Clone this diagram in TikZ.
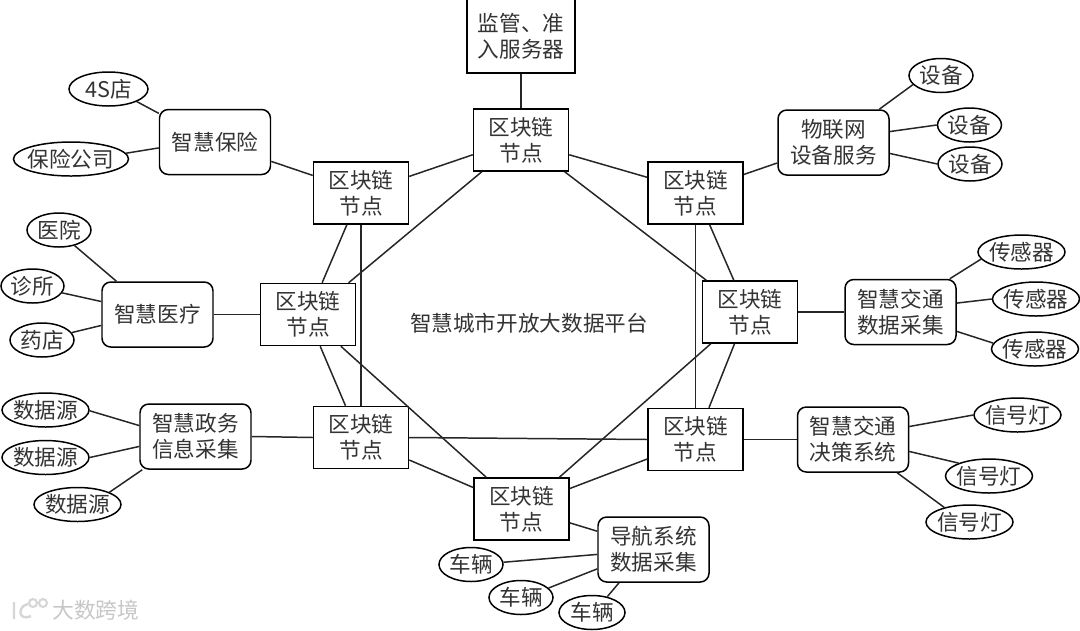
\documentclass[tikz,border=0pt]{standalone}
\usepackage{fontspec}
\setmainfont{Noto Sans CJK SC}
\usepackage{xcolor}
\usetikzlibrary{shapes.geometric}

\begin{document}
\begin{tikzpicture}[x=0.02cm, y=-0.02cm,
    every node/.style={font=\fontsize{12.3}{14.8}\selectfont, text=black!80},
    blocknode/.style={draw, line width=0.85pt, align=center, inner sep=0pt, minimum width=95*0.02cm, minimum height=62*0.02cm},
    roundnode/.style={draw, line width=0.85pt, align=center, inner sep=0pt, rounded corners=5pt, minimum width=111*0.02cm, minimum height=65*0.02cm},
    ovalnode/.style={draw, ellipse, line width=0.85pt, inner sep=0pt, minimum width=#1*0.02cm, minimum height=34*0.02cm},
    link/.style={line width=0.85pt, color=black!85}]

  \useasboundingbox (0,0) rectangle (1080,630);

  % Blockchain nodes
  \foreach \n/\x/\y in {bT/521/140, bUR/695.5/193, bR/750/312, bLR/695.5/439.5, bB/521.5/509, bLL/361/437.5, bL/308/314.5, bUL/361/193}
    \node[blocknode] (\n) at (\x,\y) {区块链\\节点};

  % Platform title
  \node (platform) at (529,323) {智慧城市开放大数据平台};

  % Top server
  \node[draw, line width=0.85pt, align=center, inner sep=0pt, minimum width=108*0.02cm, minimum height=74*0.02cm] (server) at (521,36) {监管、准\\入服务器};

  % Application boxes
  \node[roundnode] (insur) at (215,142) {智慧保险};
  \node[roundnode] (med) at (157.5,314.5) {智慧医疗};
  \node[roundnode] (gov) at (195.5,436.5) {智慧政务\\信息采集};
  \node[roundnode] (iot) at (833.5,142.5) {物联网\\设备服务};
  \node[roundnode] (tdata) at (900.5,312) {智慧交通\\数据采集};
  \node[roundnode] (tdec) at (853,439.5) {智慧交通\\决策系统};
  \node[roundnode] (nav) at (653.5,549.5) {导航系统\\数据采集};

  % Leaf ellipses
  \foreach \n/\w/\x/\y/\t in {shop/79/108.5/89/4S店, comp/115/71/159/保险公司,
      hosp/64/59/230/医院, clin/63/32.5/286/诊所, drug/64/42/340/药店,
      srcA/87/45.5/410/数据源, srcB/87/45.5/457.5/数据源, srcC/87/77.5/504.5/数据源,
      devA/64/941/75.5/设备, devB/64/969.5/125/设备, devC/64/970/164/设备,
      senA/87/1021.5/252/传感器, senB/87/1036/299/传感器, senC/87/1035/349/传感器,
      lampA/87/1017.5/415/信号灯, lampB/87/989/476/信号灯, lampC/87/969.5/522/信号灯,
      carA/64/471/564.5/车辆, carB/64/521/597.5/车辆, carC/66/592/612.5/车辆}
    \node[ovalnode=\w] (\n) at (\x,\y) {\makebox[0pt]{\t}};

  % Ring and chords between blockchain nodes
  \foreach \a/\b in {bUL.19/bT.197, bT.-17/bUR.162, bUR.-66/bR.117, bUR.south/bLR.north,
      bR.244/bLR.67, bR.219/bB.40, bT.-36/bR.144, bT.219/bL.38, bUL.246/bL.66,
      bUL.south/bLL.north, bL.-69/bLL.116, bL.-44/bB.138, bLL.east/bLR.west,
      bLL.-25/bB.156, bB.23/bLR.202, bT.north/server.south}
    \draw[link] (\a) -- (\b);

  % Links from applications to blockchain nodes
  \foreach \a/\b in {insur.-19/bUL.160, med.east/bL.west, gov.east/bLL.west,
      bUR.21/iot.200, bR.east/tdata.west, bLR.east/tdec.west, bB.-16/nav.162.5}
    \draw[link] (\a) -- (\b);

  % Links from applications to leaves
  \foreach \a/\b in {shop.-24/insur.153, comp.6/insur.186,
      hosp.-45/med.141, clin.-13/med.167, drug.14/med.191,
      srcA.-1/gov.169, srcB.0/gov.190, srcC.21/gov.212,
      iot.36/devA.198, iot.11/devB.180, iot.-11/devC.180,
      tdata.34/senA.190, tdata.9/senB.180, tdata.-19/senC.172,
      tdec.13/lampA.180, tdec.-12/lampB.157, tdec.-37/lampC.150,
      carA.4/nav.185, carB.19/nav.199, carC.46/nav.224}
    \draw[link] (\a) -- (\b);

  % Watermark
  \draw[line width=1.2pt, color=black!16] (33,603) circle[radius=4] (43,603) circle[radius=4];
  \draw[line width=1.4pt, color=black!16] (14,602) -- (14,619) (28,604) .. controls (17,606) and (18,622) .. (31,616);
  \node[text=black!22, font=\fontsize{12.4}{14}\selectfont] (mark) at (96,610) {大数跨境};

\end{tikzpicture}
\end{document}
